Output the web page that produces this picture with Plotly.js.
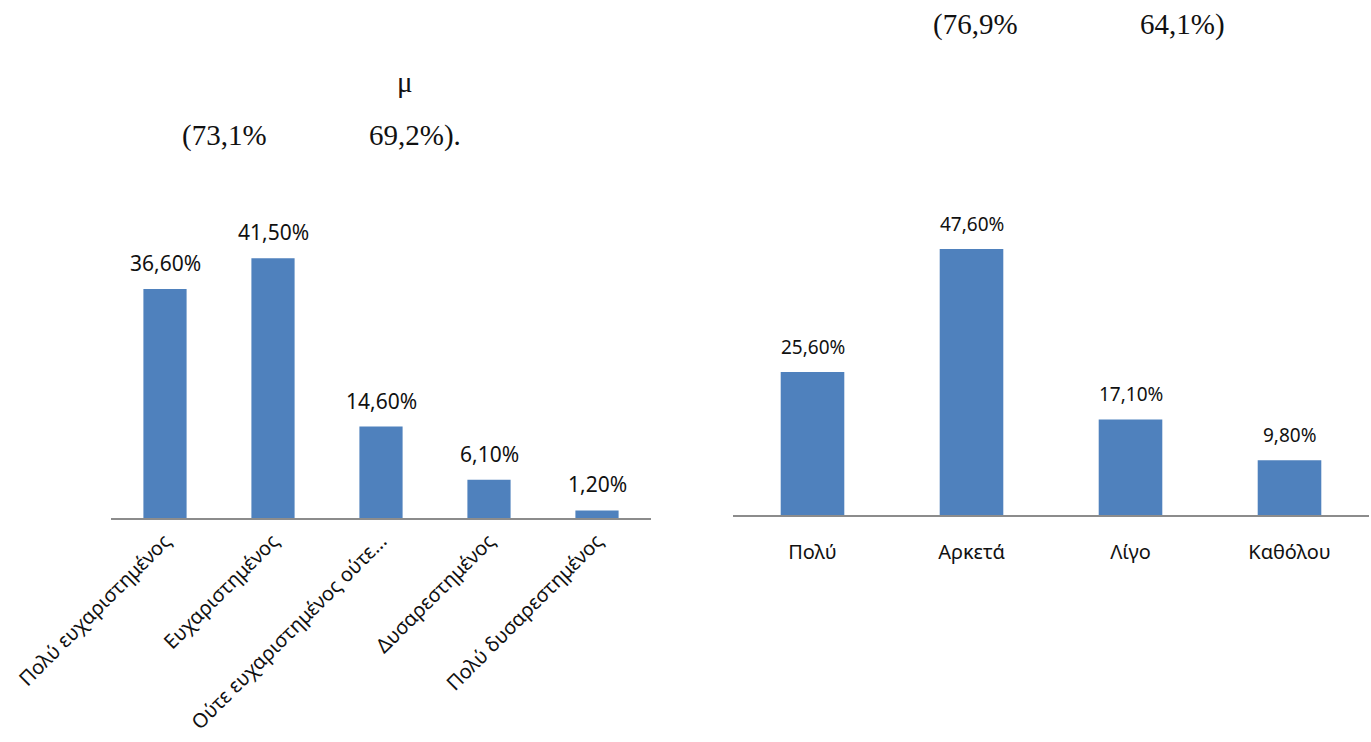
<!DOCTYPE html>
<html>
<head>
<meta charset="utf-8">
<script src="https://cdn.plot.ly/plotly-3.0.1.min.js"></script>
<style>html,body{margin:0;padding:0;background:#fff;}#chart{width:1371px;height:742px;}</style>
</head>
<body>
<div id="chart"></div>
<script>
// Left chart: satisfaction
const satisfactionCategories = ["Πολύ ευχαριστημένος", "Ευχαριστημένος", "Ούτε ευχαριστημένος ούτε...", "Δυσαρεστημένος", "Πολύ δυσαρεστημένος"];
const satisfactionValues = [36.6, 41.5, 14.6, 6.1, 1.2];
// Right chart: degree
const degreeCategories = ["Πολύ", "Αρκετά", "Λίγο", "Καθόλου"];
const degreeValues = [25.6, 47.6, 17.1, 9.8];
// Fragments of surrounding text
const topTexts = ["(76,9%", "64,1%)", "μ", "(73,1%", "69,2%)."];

const W = 1371, H = 742;
const barColor = '#4F81BD';
const labelFont = '"Noto Sans", "Open Sans", sans-serif';
const fmt = v => v.toFixed(2).replace('.', ',') + '%';

const traces = [
  {type: 'bar', x: satisfactionCategories, y: satisfactionValues, xaxis: 'x', yaxis: 'y',
   marker: {color: barColor}, width: 0.4, hoverinfo: 'none'},
  {type: 'bar', x: degreeCategories, y: degreeValues, xaxis: 'x2', yaxis: 'y2',
   marker: {color: barColor}, width: 0.4, hoverinfo: 'none'}
];

const annotations = [];
satisfactionCategories.forEach((c, i) => annotations.push({
  xref: 'x', yref: 'y', x: c, y: satisfactionValues[i], text: fmt(satisfactionValues[i]),
  showarrow: false, yanchor: 'bottom', yshift: 10, font: {family: labelFont, size: 21, color: '#111'}
}));
degreeCategories.forEach((c, i) => annotations.push({
  xref: 'x2', yref: 'y2', x: c, y: degreeValues[i], text: fmt(degreeValues[i]),
  showarrow: false, yanchor: 'bottom', yshift: 10, font: {family: labelFont, size: 19, color: '#111'}
}));
const topPos = [[975, 25], [1182, 25], [405, 82], [224, 135], [415, 135]];
topTexts.forEach((t, i) => annotations.push({
  xref: 'paper', yref: 'paper', x: topPos[i][0] / W, y: 1 - topPos[i][1] / H, text: t,
  showarrow: false, xanchor: 'center', yanchor: 'middle',
  font: {family: '"Liberation Serif", "Times New Roman", serif', size: 29, color: '#111'}
}));

const axisBase = {showline: true, linecolor: '#8c8c8c', linewidth: 1.5, ticks: '', showgrid: false,
  zeroline: false, fixedrange: true};

const layout = {
  width: W, height: H, margin: {l: 0, r: 0, t: 0, b: 0},
  paper_bgcolor: '#fff', plot_bgcolor: '#fff', showlegend: false, bargap: 0.6,
  xaxis: Object.assign({}, axisBase, {domain: [111 / W, 651 / W], anchor: 'y', tickangle: -45,
    ticklabelstandoff: 2, tickfont: {family: labelFont, size: 20, color: '#111'}}),
  yaxis: {domain: [1 - 518 / H, 1 - 200 / H], range: [0, 318 / 6.26], visible: false, fixedrange: true},
  xaxis2: Object.assign({}, axisBase, {domain: [733 / W, 1369 / W], anchor: 'y2', tickangle: 0,
    ticklabelstandoff: 18, tickfont: {family: labelFont, size: 20, color: '#111'}}),
  yaxis2: {domain: [1 - 515 / H, 1 - 200 / H], range: [0, 315 / 5.59], visible: false, fixedrange: true},
  annotations: annotations
};

Plotly.newPlot('chart', traces, layout, {displayModeBar: false, staticPlot: true});
</script>
</body>
</html>
